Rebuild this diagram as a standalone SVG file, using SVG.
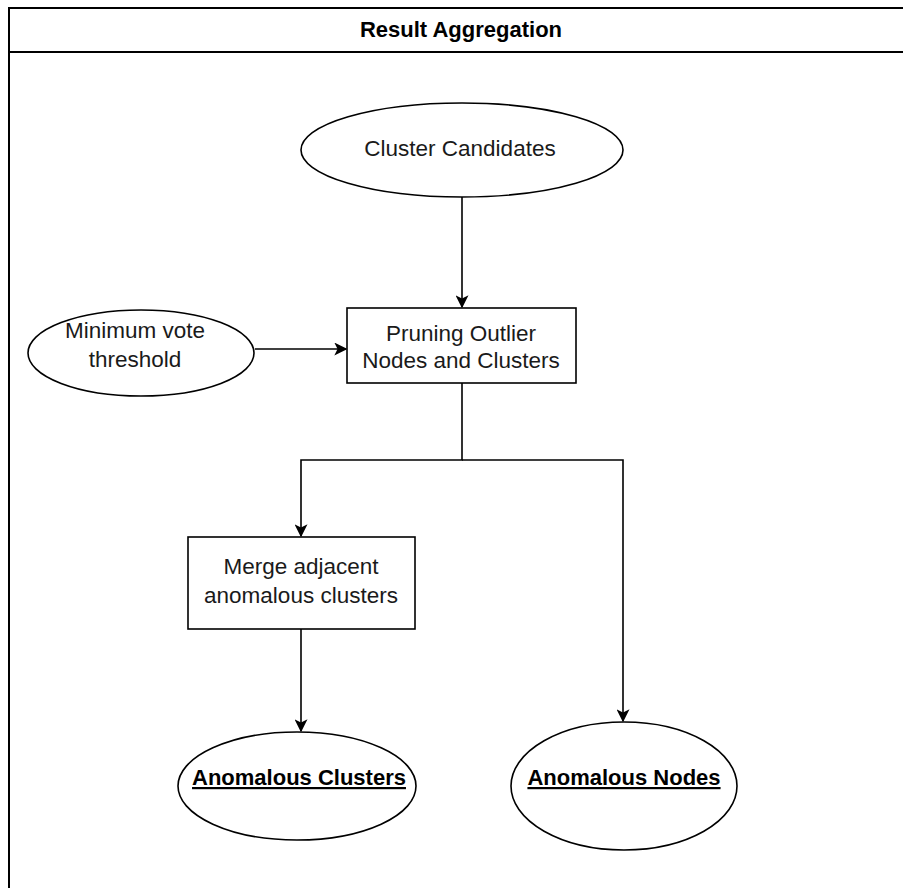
<svg xmlns="http://www.w3.org/2000/svg" width="903" height="888" viewBox="0 0 903 888">
  <style>
    .shape { fill: #ffffff; stroke: #000000; stroke-width: 1.6; }
    .frame { fill: #ffffff; stroke: #000000; stroke-width: 2; }
    .label { font-family: "Liberation Sans", Arial, sans-serif; font-size: 22.5px; fill: #1a1a1a; text-anchor: middle; }
    .bold { font-weight: bold; font-size: 22px; fill: #000000; }
    .ul { text-decoration: underline; }
    .edge { fill: none; stroke: #000000; stroke-width: 1.6; }
  </style>
  <defs>
    <marker id="arrow" viewBox="0 0 10 10" refX="9" refY="5" markerWidth="13" markerHeight="13" markerUnits="userSpaceOnUse" orient="auto">
      <path d="M0,0 L10,5 L0,10 L2.5,5 Z" fill="#000000"/>
    </marker>
  </defs>

  <!-- swimlane container -->
  <g id="container">
    <rect class="frame" x="9" y="8" width="910" height="900"/>
    <line x1="9" y1="52" x2="919" y2="52" stroke="#000000" stroke-width="2"/>
    <text class="label bold" x="461" y="37">Result Aggregation</text>
  </g>

  <!-- connectors -->
  <g id="connectors">
    <path class="edge" d="M462,197 L462,307" marker-end="url(#arrow)"/>
    <path class="edge" d="M255,349 L346,349" marker-end="url(#arrow)"/>
    <path class="edge" d="M462,383 L462,460 L301,460 L301,536" marker-end="url(#arrow)"/>
    <path class="edge" d="M462,460 L623,460 L623,721" marker-end="url(#arrow)"/>
    <path class="edge" d="M301,629 L301,731" marker-end="url(#arrow)"/>
  </g>

  <g id="cluster-candidates">
    <ellipse class="shape" cx="462" cy="150" rx="161" ry="47"/>
    <text class="label" x="460" y="156">Cluster Candidates</text>
  </g>

  <g id="min-vote-threshold">
    <ellipse class="shape" cx="141" cy="353" rx="113" ry="43"/>
    <text class="label" x="135" y="338">Minimum vote</text>
    <text class="label" x="135" y="367">threshold</text>
  </g>

  <g id="pruning">
    <rect class="shape" x="347" y="308" width="229" height="75"/>
    <text class="label" x="461" y="341">Pruning Outlier</text>
    <text class="label" x="461" y="368">Nodes and Clusters</text>
  </g>

  <g id="merge">
    <rect class="shape" x="188" y="537" width="227" height="92"/>
    <text class="label" x="301" y="574">Merge adjacent</text>
    <text class="label" x="301" y="603">anomalous clusters</text>
  </g>

  <g id="anomalous-clusters">
    <ellipse class="shape" cx="297" cy="786" rx="119" ry="54"/>
    <text class="label bold ul" x="299" y="785">Anomalous Clusters</text>
  </g>

  <g id="anomalous-nodes">
    <ellipse class="shape" cx="624" cy="786" rx="113" ry="64"/>
    <text class="label bold ul" x="624" y="785">Anomalous Nodes</text>
  </g>
</svg>
